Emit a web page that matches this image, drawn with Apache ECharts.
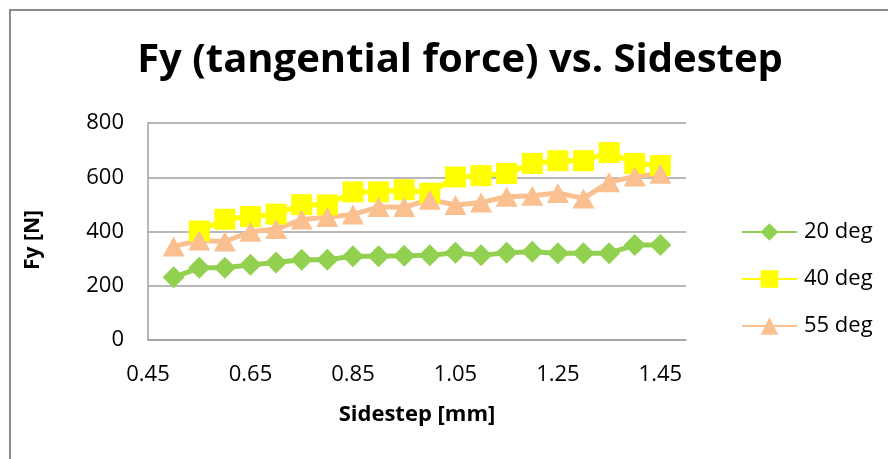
<!DOCTYPE html>
<html>
<head>
<meta charset="utf-8">
<script src="https://cdn.jsdelivr.net/npm/echarts@6/dist/echarts.min.js"></script>
<style>
html,body{margin:0;padding:0;background:#fff;}
#c{width:888px;height:459px;}
</style>
</head>
<body>
<div id="c"></div>
<script>
const xTickLabels = [0.45, 0.65, 0.85, 1.05, 1.25, 1.45];
const yTicks = [0, 200, 400, 600, 800];

const x20 = [0.5,0.55,0.6,0.65,0.7,0.75,0.8,0.85,0.9,0.95,1.0,1.05,1.1,1.15,1.2,1.25,1.3,1.35,1.4,1.45];
const y20 = [231,266,266,277,286,296,296,309,309,311,312,322,312,322,325,320,320,320,350,350];

const x40 = [0.55,0.6,0.65,0.7,0.75,0.8,0.85,0.9,0.95,1.0,1.05,1.1,1.15,1.2,1.25,1.3,1.35,1.4,1.45];
const y40 = [402,445,455,464,499,498,546,546,554,541,601,606,614,651,661,661,691,651,643];

const x55 = [0.5,0.55,0.6,0.65,0.7,0.75,0.8,0.85,0.9,0.95,1.0,1.05,1.1,1.15,1.2,1.25,1.3,1.35,1.4,1.45];
const y55 = [345,367,363,399,409,444,453,463,490,490,517,498,507,528,532,542,522,582,603,613];

const seriesNames = ['20 deg', '40 deg', '55 deg'];
const colors = ['#92D050', '#FFFF00', '#FAC090'];

function pairs(xs, ys){ return xs.map((x,i)=>[x, ys[i]]); }

const chart = echarts.init(document.getElementById('c'), null, {renderer:'canvas'});
const FONT = '"Open Sans", sans-serif';

chart.setOption({
  animation: false,
  backgroundColor: '#fff',
  title: {
    text: 'Fy (tangential force) vs. Sidestep',
    left: 455,
    textAlign: 'center',
    top: 36,
    textStyle: {fontFamily: FONT, fontWeight: 'bold', fontSize: 40, color: '#000'}
  },
  graphic: [{
    type: 'rect', silent: true, z: -1,
    shape: {x: 10, y: 10, width: 2000, height: 2000},
    style: {fill: 'none', stroke: '#8a8a8a', lineWidth: 2}
  }, {
    type: 'text', silent: true,
    x: 33, y: 240, rotation: Math.PI / 2,
    style: {text: 'Fy [N]', fontFamily: FONT, fontWeight: 'bold', fontSize: 21, fill: '#000',
            align: 'center', verticalAlign: 'middle'}
  }],
  legend: {
    orient: 'vertical',
    left: 741,
    top: 221,
    padding: 0,
    itemWidth: 55,
    itemHeight: 22,
    itemGap: 25,
    data: seriesNames,
    textStyle: {fontFamily: FONT, fontSize: 22, color: '#000', lineHeight: 22, padding: [0,0,0,2]}
  },
  grid: {left: 148, right: 202, top: 123, bottom: 119, containLabel: false},
  xAxis: {
    type: 'value',
    min: 0.45, max: 1.5,
    name: 'Sidestep [mm]',
    nameLocation: 'middle',
    nameGap: 64,
    nameTextStyle: {fontFamily: FONT, fontWeight: 'bold', fontSize: 22, color: '#000'},
    axisLine: {show: true, lineStyle: {color: '#a0a0a0', width: 1.5}},
    axisTick: {show: false},
    splitLine: {show: false},
    axisLabel: {
      customValues: xTickLabels,
      formatter: v => v.toFixed(2),
      fontFamily: FONT, fontSize: 22, color: '#000', margin: 24
    }
  },
  yAxis: {
    type: 'value',
    min: 0, max: 800, interval: 200,
    axisLine: {show: true, lineStyle: {color: '#a0a0a0', width: 1.5}},
    axisTick: {show: false},
    splitLine: {show: true, lineStyle: {color: '#a0a0a0', width: 1.5}},
    axisLabel: {fontFamily: FONT, fontSize: 22, color: '#000', margin: 24}
  },
  series: [
    {name: seriesNames[0], type: 'line', data: pairs(x20, y20), symbol: 'diamond', symbolSize: 22,
     color: colors[0], lineStyle: {width: 5, color: colors[0]}, itemStyle: {color: colors[0]}},
    {name: seriesNames[1], type: 'line', data: pairs(x40, y40), symbol: 'rect', symbolSize: 21,
     color: colors[1], lineStyle: {width: 5, color: colors[1]}, itemStyle: {color: colors[1]}},
    {name: seriesNames[2], type: 'line', data: pairs(x55, y55), symbol: 'triangle', symbolSize: [22, 20],
     color: colors[2], lineStyle: {width: 5, color: colors[2]}, itemStyle: {color: colors[2]}}
  ]
});
</script>
</body>
</html>
